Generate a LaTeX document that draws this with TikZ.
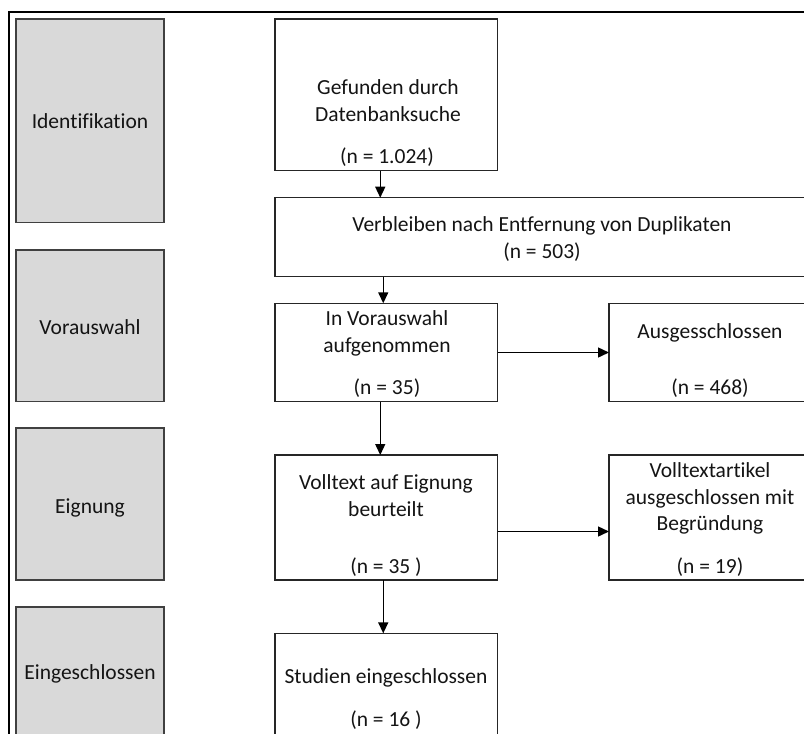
\documentclass[tikz,border=0pt]{standalone}
\usepackage{fontspec}
\setmainfont{Carlito}[Ligatures=NoCommon]
\usetikzlibrary{arrows.meta}
\definecolor{lblfill}{HTML}{D9D9D9}
\definecolor{lbledge}{HTML}{404040}
\definecolor{txt}{HTML}{141414}
\begin{document}
\begin{tikzpicture}[x=1pt,y=-1pt,
  every node/.style={inner sep=0pt,outer sep=0pt},
  lbl/.style={draw=lbledge,line width=1.4pt,fill=lblfill,minimum width=148pt},
  box/.style={draw=black!85,line width=1.4pt,fill=white},
  tx/.style={anchor=mid,text=txt,font=\fontsize{21.5}{25}\selectfont},
  arr/.style={line width=1.4pt,-{Triangle[length=11pt,width=10pt]}}]
\path[use as bounding box] (0,0) rectangle (804,734);
\clip (0,0) rectangle (804,734);
\draw[line width=2.2pt] (9,12) rectangle (950,950);
% phase labels
\node[lbl,minimum height=203.5pt] (g1) at (90,120.7) {};
\node[lbl,minimum height=151.7pt] (g2) at (90,325.9) {};
\node[lbl,minimum height=152pt] (g3) at (90,504) {};
\node[lbl,minimum height=152pt] (g4) at (90,683) {};
\node[tx] (g1t) at (90,126) {Identifikation};
\node[tx] (g2t) at (90,332) {Vorauswahl};
\node[tx] (g3t) at (90,511) {Eignung};
\node[tx] (g4t) at (90,677) {Eingeschlossen};
% main column
\node[box,minimum width=222.5pt,minimum height=151.7pt] (b1) at (386.25,94.85) {};
\node[box,minimum width=536pt,minimum height=79pt] (b2) at (543,237.2) {};
\node[box,minimum width=222.5pt,minimum height=98.4pt] (b3) at (386.25,352.5) {};
\node[box,minimum width=202pt,minimum height=98.4pt] (r1) at (710,352.5) {};
\node[box,minimum width=222.5pt,minimum height=125pt] (b4) at (386.25,517.5) {};
\node[box,minimum width=202pt,minimum height=125pt] (r2) at (710,517.5) {};
\node[box,minimum width=222.5pt,minimum height=126.7pt] (b5) at (386.25,696.7) {};
% texts
\node[tx] (b1a) at (388,92) {Gefunden durch};
\node[tx] (b1b) at (388,119) {Datenbanksuche};
\node[tx] (b1c) at (387,161.5) {(n = 1.024)};
\node[tx] (b2a) at (542,229) {Verbleiben nach Entfernung von Duplikaten};
\node[tx] (b2b) at (542,256) {(n = 503)};
\node[tx] (b3a) at (387,323) {In Vorauswahl};
\node[tx] (b3b) at (387,350) {aufgenommen};
\node[tx] (b3c) at (387,392.5) {(n = 35)};
\node[tx] (r1a) at (710,336) {Ausgesschlossen};
\node[tx] (r1b) at (710,392.5) {(n = 468)};
\node[tx] (b4a) at (386,487) {Volltext auf Eignung};
\node[tx] (b4b) at (386,514) {beurteilt};
\node[tx] (b4c) at (386,571) {(n = 35 )};
\node[tx] (r2a) at (710,475) {Volltextartikel};
\node[tx] (r2b) at (710,502) {ausgeschlossen mit};
\node[tx] (r2c) at (710,528) {Begründung};
\node[tx] (r2d) at (710,571) {(n = 19)};
\node[tx] (b5a) at (386,681) {Studien eingeschlossen};
\node[tx] (b5b) at (386,724) {(n = 16 )};
% connectors
\draw[arr] ([xshift=-6pt]b1.south) -- ([xshift=-6pt]b1.south |- b2.north);
\draw[arr] ([xshift=-3pt]b1.south |- b2.south) -- ([xshift=-3pt]b1.south |- b3.north);
\draw[arr] ([xshift=-6pt]b3.south) -- ([xshift=-6pt]b4.north);
\draw[arr] ([xshift=-3pt]b4.south) -- ([xshift=-3pt]b5.north);
\draw[arr] (b3.east) -- (r1.west);
\draw[arr] ([yshift=-14pt]b4.east) -- ([yshift=-14pt]b4.east -| r2.west);
\end{tikzpicture}
\end{document}
